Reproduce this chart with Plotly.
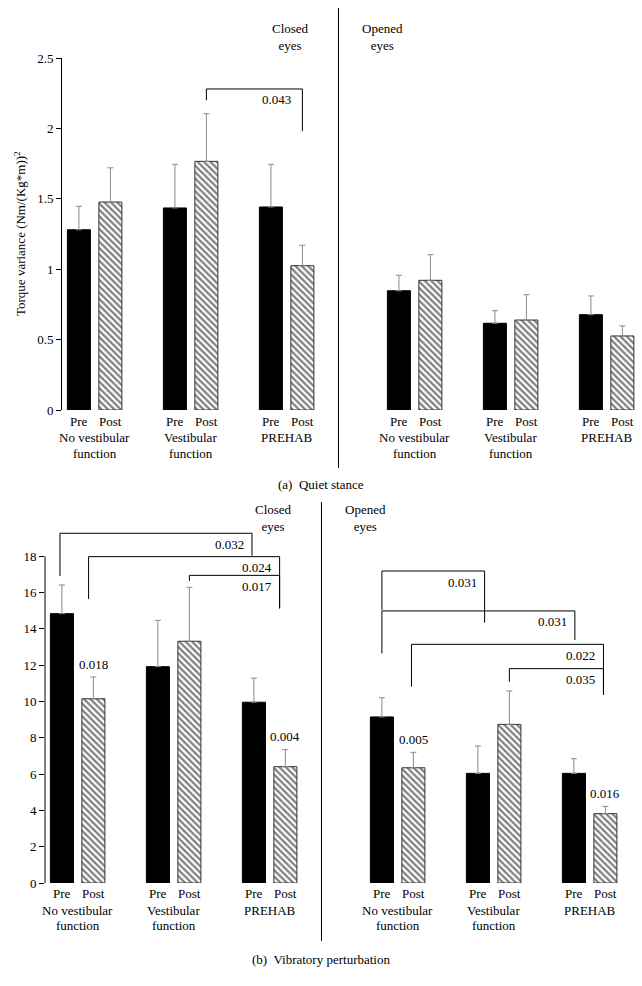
import plotly.graph_objects as go

# ---------------- data ----------------
groups = ["No vestibular<br>function", "Vestibular<br>function", "PREHAB"]
conditions = ["Closed<br>eyes", "Opened<br>eyes"]
phases = ["Pre", "Post"]

# order of slots: closed eyes (3 groups), then opened eyes (3 groups)
# (a) Quiet stance
a_pre = [1.28, 1.435, 1.442, 0.847, 0.616, 0.677]
a_pre_top = [1.447, 1.745, 1.745, 0.957, 0.705, 0.81]
a_post = [1.477, 1.766, 1.025, 0.921, 0.639, 0.526]
a_post_top = [1.72, 2.104, 1.17, 1.103, 0.819, 0.597]

# (b) Vibratory perturbation
b_pre = [14.84, 11.92, 9.96, 9.15, 6.04, 6.04]
b_pre_top = [16.42, 14.47, 11.29, 10.21, 7.55, 6.85]
b_post = [10.15, 13.32, 6.41, 6.35, 8.74, 3.82]
b_post_top = [11.35, 16.29, 7.35, 7.2, 10.58, 4.22]

# brackets: (slot_l, phase_l, dx_l, slot_r, phase_r, dx_r, y_top, y_end_l, y_end_r, label)
a_brackets = [
    (1, 1, 0.0, 2, 1, 0.0, 2.28, 2.20, 1.98, "0.043"),
]
b_brackets = [
    (0, 0, -0.02, 2, 0, -0.02, 19.27, 16.91, 18.03, "0.032"),
    (0, 1, -0.05, 2, 1, -0.06, 17.98, 15.65, 15.13, "0.024"),
    (1, 1, 0.0, 2, 1, -0.06, 16.95, 16.64, 15.13, "0.017"),
    (3, 0, 0.0, 4, 0, 0.07, 17.19, 15.04, 14.34, "0.031"),
    (3, 0, 0.0, 5, 0, 0.01, 14.99, 12.65, 13.39, "0.031"),
    (3, 1, -0.02, 5, 1, -0.02, 13.15, 10.82, 10.36, "0.022"),
    (4, 1, 0.0, 5, 1, -0.02, 11.81, 11.09, 10.36, "0.035"),
]
# single p-values above bars in (b): (slot, phase, label)
b_bar_labels = [(0, 1, "0.018"), (2, 1, "0.004"), (3, 1, "0.005"), (5, 1, "0.016")]

# ---------------- layout helpers ----------------
W, H = 642, 986
FONT = "Liberation Serif, Times New Roman, serif"
OFF = 0.164        # half distance between Pre and Post bars (group units)
BARW = 0.24
XR = [-0.34, -0.34 + 580 / 96]
group_pos = [i + (1 / 3 if i >= 3 else 0) for i in range(6)]
SEP_X = 2.54


def xb(slot, phase, dx=0.0):
    return group_pos[slot] + (OFF if phase == 1 else -OFF) + dx


def px(p):  # pixel (from top) -> paper y
    return 1 - p / H


panels = [
    dict(xa="x", ya="y", pre=a_pre, pre_top=a_pre_top, post=a_post, post_top=a_post_top,
         xdom=[62 / W, 642 / W], ydom=[px(410), px(58)], yr=[0, 2.5],
         ticks=[0, 0.5, 1, 1.5, 2, 2.5], brackets=a_brackets, lab=[],
         pre_shift=-11, grp_shift=-27, grp_step=16, cond_y=px(37.5), sep=(8, 468), lshift=-9,
         caption="(a)\u00a0 Quiet stance", cap_y=px(485)),
    dict(xa="x2", ya="y2", pre=b_pre, pre_top=b_pre_top, post=b_post, post_top=b_post_top,
         xdom=[45 / W, 625 / W], ydom=[px(883), px(520)], yr=[0, 20],
         ticks=list(range(0, 19, 2)), brackets=b_brackets, lab=b_bar_labels,
         pre_shift=-10, grp_shift=-27, grp_step=15, cond_y=px(518), sep=(502, 941), lshift=-6,
         caption="(b)\u00a0 Vibratory perturbation", cap_y=px(959)),
]

fig = go.Figure()
shapes, annotations = [], []
TXT = dict(family=FONT, size=13, color="black")

for p in panels:
    xs = [xb(i, 0) for i in range(6)]
    xs2 = [xb(i, 1) for i in range(6)]
    fig.add_trace(go.Bar(
        x=xs, y=p["pre"], width=BARW, xaxis=p["xa"], yaxis=p["ya"],
        marker=dict(color="black", line=dict(color="black", width=1)),
        error_y=dict(type="data", symmetric=False,
                     array=[t - v for t, v in zip(p["pre_top"], p["pre"])],
                     arrayminus=[0] * 6, color="#8a8a8a", thickness=1, width=3),
        showlegend=False, hoverinfo="skip"))
    fig.add_trace(go.Bar(
        x=xs2, y=p["post"], width=BARW, xaxis=p["xa"], yaxis=p["ya"],
        marker=dict(color="white", line=dict(color="#333333", width=1),
                    pattern=dict(shape="\\", size=4.5, solidity=0.5,
                                 fgcolor="black", bgcolor="white", fillmode="overlay")),
        error_y=dict(type="data", symmetric=False,
                     array=[t - v for t, v in zip(p["post_top"], p["post"])],
                     arrayminus=[0] * 6, color="#8a8a8a", thickness=1, width=3),
        showlegend=False, hoverinfo="skip"))

    # brackets
    for (sl, pl, dl, sr, pr, dr, yt, yl, yrr, lab) in p["brackets"]:
        x0, x1 = xb(sl, pl, dl), xb(sr, pr, dr)
        shapes.append(dict(type="path", xref=p["xa"], yref=p["ya"],
                           path=f"M {x0},{yl} V {yt} H {x1} V {yrr}",
                           line=dict(color="black", width=1)))
        annotations.append(dict(x=x1, y=yt, xref=p["xa"], yref=p["ya"], text=lab,
                                showarrow=False, xanchor="right", yanchor="middle",
                                xshift=p["lshift"], yshift=-11, font=TXT))
    tops = {0: p["pre_top"], 1: p["post_top"]}
    for (s, ph, lab) in p["lab"]:
        annotations.append(dict(x=xb(s, ph), y=tops[ph][s], xref=p["xa"], yref=p["ya"],
                                text=lab, showarrow=False, yanchor="middle", yshift=13,
                                font=TXT))

    # category labels
    for i in range(6):
        for ph in range(2):
            annotations.append(dict(x=xb(i, ph), y=0, xref=p["xa"], yref=p["ya"] + " domain",
                                    text=phases[ph], showarrow=False, yanchor="middle",
                                    yshift=p["pre_shift"], font=TXT))
        for k, line in enumerate(groups[i % 3].split("<br>")):
            annotations.append(dict(x=group_pos[i], y=0, xref=p["xa"],
                                    yref=p["ya"] + " domain", text=line, showarrow=False,
                                    yanchor="middle",
                                    yshift=p["grp_shift"] - k * p["grp_step"], font=TXT))
    # condition labels
    for cx, ctext in zip([2.04, 3.0], conditions):
        annotations.append(dict(x=cx, y=p["cond_y"], xref=p["xa"], yref="paper", text=ctext,
                                showarrow=False, yanchor="middle", font=TXT))
    # separator
    sx = p["xdom"][0] + (SEP_X - XR[0]) / (XR[1] - XR[0]) * (p["xdom"][1] - p["xdom"][0])
    shapes.append(dict(type="line", xref="paper", yref="paper", x0=sx, x1=sx,
                       y0=px(p["sep"][0]), y1=px(p["sep"][1]),
                       line=dict(color="black", width=1)))
    # caption
    annotations.append(dict(x=0.5, y=p["cap_y"], xref="paper", yref="paper", text=p["caption"],
                            showarrow=False, yanchor="middle", font=TXT))

# y-axis line for (b) only up to 18
p = panels[1]
ytop = p["ydom"][0] + 18 / p["yr"][1] * (p["ydom"][1] - p["ydom"][0])
shapes.append(dict(type="line", xref="paper", yref="paper", x0=p["xdom"][0], x1=p["xdom"][0],
                   y0=p["ydom"][0], y1=ytop, line=dict(color="black", width=1)))

# y title (a)
annotations.append(dict(x=20 / W, y=px(234), xref="paper", yref="paper",
                        text="Torque variance (Nm/(Kg*m))<sup>2</sup>", textangle=-90,
                        showarrow=False, xanchor="center", yanchor="middle", font=TXT))

xcommon = dict(range=XR, showticklabels=False, showline=False, showgrid=False,
               zeroline=False, ticks="", fixedrange=True, automargin=False)
ycommon = dict(showgrid=False, zeroline=False, ticks="outside", ticklen=5,
               tickcolor="black", tickwidth=1, automargin=False, fixedrange=True,
               tickfont=TXT)

fig.update_layout(
    width=W, height=H, margin=dict(l=0, r=0, t=0, b=0, autoexpand=False),
    paper_bgcolor="white", plot_bgcolor="white", barmode="overlay",
    xaxis=dict(domain=panels[0]["xdom"], anchor="y", **xcommon),
    xaxis2=dict(domain=panels[1]["xdom"], anchor="y2", **xcommon),
    yaxis=dict(domain=panels[0]["ydom"], anchor="x", range=panels[0]["yr"],
               tickvals=panels[0]["ticks"], showline=True, linecolor="black", linewidth=1,
               **ycommon),
    yaxis2=dict(domain=panels[1]["ydom"], anchor="x2", range=panels[1]["yr"],
                tickvals=panels[1]["ticks"], showline=False, **ycommon),
    shapes=shapes, annotations=annotations,
)

fig.write_html("out.html", config={"displayModeBar": False},
               post_script="document.body.style.margin='0';document.body.style.padding='0';")
